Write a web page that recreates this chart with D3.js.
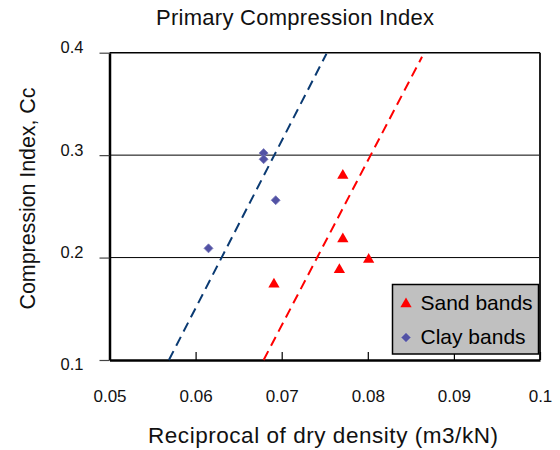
<!DOCTYPE html>
<html>
<head>
<meta charset="utf-8">
<script src="https://cdn.jsdelivr.net/npm/d3@7"></script>
<style>
  body { margin: 0; background: #fff; }
  svg { font-family: 'Liberation Sans', Arial, sans-serif; }
</style>
</head>
<body>
<div id="chart"></div>
<script>
// values
const sandX = [0.0691, 0.0767, 0.0771, 0.0771, 0.0801]
const sandY = [0.175, 0.189, 0.219, 0.281, 0.199]
const clayX = [0.0615, 0.0679, 0.0679, 0.0693]
const clayY = [0.209, 0.302, 0.296, 0.256]

// trend lines (end points)
const sandTrendX = [0.0679, 0.0863]
const sandTrendY = [0.1, 0.396]
const clayTrendX = [0.0569, 0.0752]
const clayTrendY = [0.1, 0.399]

const xTicks = [0.05, 0.06, 0.07, 0.08, 0.09, 0.1]
const yTicks = [0.1, 0.2, 0.3, 0.4]
const legendLabels = ['Sand bands', 'Clay bands']

const width = 560
const height = 450
const plotLeft = 109.5
const plotRight = 540
const plotTop = 52.7
const plotBottom = 360

const svg = d3.select('#chart')
  .append('svg')
  .attr('width', width)
  .attr('height', height)

const x = d3.scaleLinear().domain([0.05, 0.1]).range([plotLeft, plotRight])
const y = d3.scaleLinear().domain([0.1, 0.4]).range([plotBottom, plotTop])

// horizontal grid lines
svg.append('g')
  .selectAll('line')
  .data(yTicks.filter(d => d > 0.1))
  .join('line')
  .attr('x1', plotLeft)
  .attr('x2', plotRight)
  .attr('y1', d => y(d))
  .attr('y2', d => y(d))
  .attr('stroke', '#000')
  .attr('stroke-width', d => d === 0.4 ? 1.6 : 1)

// right border
svg.append('line')
  .attr('x1', plotRight).attr('x2', plotRight)
  .attr('y1', plotTop).attr('y2', plotBottom)
  .attr('stroke', '#222')
  .attr('stroke-width', 2)

// x axis, ticks pointing inside
const xAxis = d3.axisBottom(x)
  .tickValues(xTicks)
  .tickSizeInner(-8)
  .tickSizeOuter(0)
  .tickPadding(30)
  .tickFormat(d => String(+d.toFixed(2)))

const gx = svg.append('g')
  .attr('transform', `translate(0, ${plotBottom})`)
  .call(xAxis)
gx.select('.domain').attr('stroke', '#000').attr('stroke-width', 2.5)
gx.selectAll('.tick line').attr('stroke', '#000').attr('stroke-width', 1.2)
gx.selectAll('.tick text')
  .attr('font-size', 17)
  .attr('font-family', "'Liberation Sans', Arial, sans-serif")
  .attr('fill', '#111')

// y axis, ticks pointing outside
const yAxis = d3.axisLeft(y)
  .tickValues(yTicks)
  .tickSizeInner(10)
  .tickSizeOuter(0)
  .tickPadding(16)
  .tickFormat(d => String(+d.toFixed(1)))

const gy = svg.append('g')
  .attr('transform', `translate(${plotLeft}, 0)`)
  .call(yAxis)
gy.select('.domain').attr('stroke', '#000').attr('stroke-width', 2.5)
gy.selectAll('.tick line').attr('stroke', '#444').attr('stroke-width', 1.2)
gy.selectAll('.tick text')
  .attr('font-size', 16.5)
  .attr('font-family', "'Liberation Sans', Arial, sans-serif")
  .attr('fill', '#111')
  .attr('dy', d => d === 0.1 ? '0.6em' : '0.0em')

// trend lines
const trendLine = d3.line().x(d => x(d[0])).y(d => y(d[1]))

svg.append('path')
  .datum(d3.zip(clayTrendX, clayTrendY))
  .attr('d', trendLine)
  .attr('fill', 'none')
  .attr('stroke', '#0a3a72')
  .attr('stroke-width', 2)
  .attr('stroke-dasharray', '10,6')

svg.append('path')
  .datum(d3.zip(sandTrendX, sandTrendY))
  .attr('d', trendLine)
  .attr('fill', 'none')
  .attr('stroke', '#ff0000')
  .attr('stroke-width', 2)
  .attr('stroke-dasharray', '10,6')

// markers
const triangle = d3.symbol().type(d3.symbolTriangle).size(55)
const diamond = (cx, cy, r) =>
  `M${cx},${cy - r}L${cx + r},${cy}L${cx},${cy + r}L${cx - r},${cy}Z`

svg.append('g')
  .selectAll('path')
  .data(d3.zip(sandX, sandY))
  .join('path')
  .attr('d', triangle)
  .attr('transform', d => `translate(${x(d[0])}, ${y(d[1]) + 1})`)
  .attr('fill', '#ff0000')

svg.append('g')
  .selectAll('path')
  .data(d3.zip(clayX, clayY))
  .join('path')
  .attr('d', d => diamond(x(d[0]), y(d[1]), 4.5))
  .attr('fill', '#5252a4')
  .attr('stroke', '#7878bb')
  .attr('stroke-width', 0.8)

// legend
const legend = svg.append('g').attr('transform', 'translate(392.5, 284.5)')
legend.append('rect')
  .attr('width', 146)
  .attr('height', 69.5)
  .attr('fill', '#c0c0c0')
  .attr('stroke', '#000')
  .attr('stroke-width', 1.5)

legend.selectAll('text')
  .data(legendLabels)
  .join('text')
  .attr('x', 28)
  .attr('y', (d, i) => 25 + i * 34)
  .attr('font-size', 21)
  .attr('fill', '#000')
  .text(d => d)

legend.append('path')
  .attr('d', triangle)
  .attr('transform', 'translate(13.5, 19.5)')
  .attr('fill', '#ff0000')
legend.append('path')
  .attr('d', diamond(13.5, 53, 4.5))
  .attr('fill', '#5252a4')
  .attr('stroke', '#7878bb')
  .attr('stroke-width', 0.8)

// titles
svg.append('text')
  .attr('x', 295)
  .attr('y', 25)
  .attr('text-anchor', 'middle')
  .attr('font-size', 22)
  .attr('textLength', 278)
  .attr('fill', '#111')
  .text('Primary Compression Index')

svg.append('text')
  .attr('x', 323)
  .attr('y', 442.5)
  .attr('text-anchor', 'middle')
  .attr('font-size', 22.5)
  .attr('textLength', 350)
  .attr('fill', '#111')
  .text('Reciprocal of dry density (m3/kN)')

svg.append('text')
  .attr('transform', 'translate(35, 198.5) rotate(-90)')
  .attr('text-anchor', 'middle')
  .attr('font-size', 21.5)
  .attr('textLength', 222)
  .attr('fill', '#111')
  .text('Compression Index, Cc')
</script>
</body>
</html>
